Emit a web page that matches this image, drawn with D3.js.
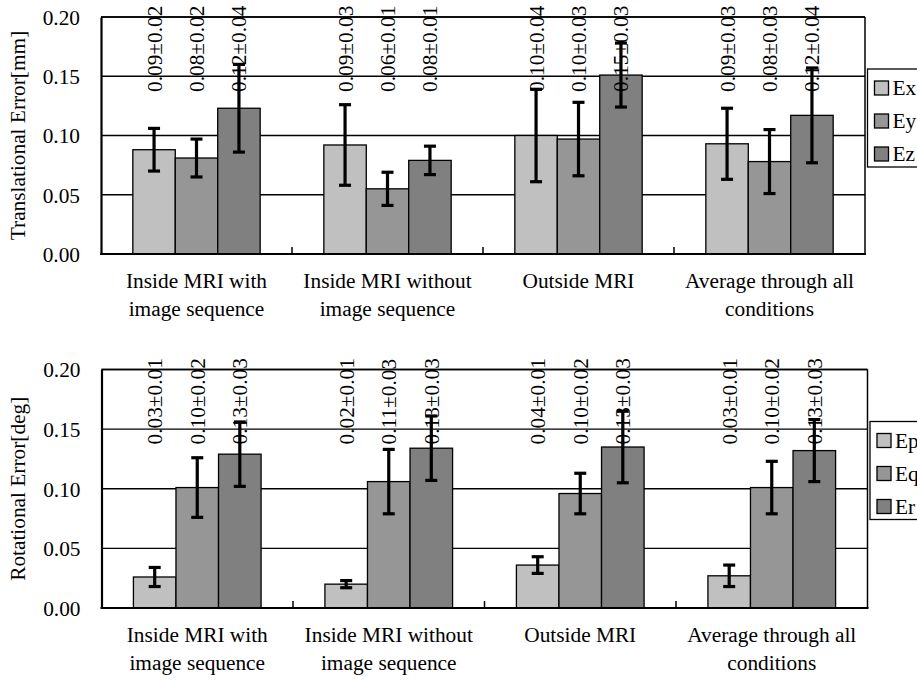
<!DOCTYPE html>
<html>
<head>
<meta charset="utf-8">
<script src="https://cdn.jsdelivr.net/npm/d3@7"></script>
<style>
  body { margin: 0; background: #fff; }
  svg, svg text { font-family: 'Liberation Serif', 'Times New Roman', Tinos, 'DejaVu Serif', serif; }
  svg text { font-size: 21.33px; fill: #000; }
</style>
</head>
<body>
<svg id="chart" width="917" height="684" font-family="Liberation Serif"></svg>
<script>
// Categories (two lines each)
var categories = [
    ["Inside MRI with", "image sequence"],
    ["Inside MRI without", "image sequence"],
    ["Outside MRI"],
    ["Average through all", "conditions"]
];
var yTicks = [0, 0.05, 0.10, 0.15, 0.20];

// Translational error [mm]
var transSeries = ["Ex", "Ey", "Ez"];
var transEx = [0.088, 0.092, 0.100, 0.093];
var transEy = [0.081, 0.055, 0.097, 0.078];
var transEz = [0.123, 0.079, 0.151, 0.117];
var transExErr = [0.018, 0.034, 0.039, 0.030];
var transEyErr = [0.016, 0.014, 0.031, 0.027];
var transEzErr = [0.037, 0.012, 0.027, 0.040];
var transExLabels = ["0.09±0.02", "0.09±0.03", "0.10±0.04", "0.09±0.03"];
var transEyLabels = ["0.08±0.02", "0.06±0.01", "0.10±0.03", "0.08±0.03"];
var transEzLabels = ["0.12±0.04", "0.08±0.01", "0.15±0.03", "0.12±0.04"];

// Rotational error [deg]
var rotSeries = ["Ep", "Eq", "Er"];
var rotEp = [0.026, 0.020, 0.036, 0.027];
var rotEq = [0.101, 0.106, 0.096, 0.101];
var rotEr = [0.129, 0.134, 0.135, 0.132];
var rotEpErr = [0.008, 0.003, 0.007, 0.009];
var rotEqErr = [0.025, 0.027, 0.017, 0.022];
var rotErErr = [0.027, 0.027, 0.030, 0.026];
var rotEpLabels = ["0.03±0.01", "0.02±0.01", "0.04±0.01", "0.03±0.01"];
var rotEqLabels = ["0.10±0.02", "0.11±0.03", "0.10±0.02", "0.10±0.02"];
var rotErLabels = ["0.13±0.03", "0.13±0.03", "0.13±0.03", "0.13±0.03"];

var colors = ["#c0c0c0", "#969696", "#808080"];

var svg = d3.select("#chart");

function drawPanel(cfg) {
    var g = svg.append("g");

    var y = d3.scaleLinear().domain([0, 0.2]).range([cfg.bottom, cfg.top]);
    var x0 = d3.scaleBand().domain(d3.range(categories.length)).range([cfg.left, cfg.right]);
    var x1 = d3.scaleBand().domain(cfg.series).range([0, x0.bandwidth()]).paddingOuter(0.75);

    // Gridlines
    g.selectAll(".grid").data(yTicks.slice(1)).enter().append("line")
        .attr("x1", cfg.left).attr("x2", cfg.right)
        .attr("y1", d => y(d)).attr("y2", d => y(d))
        .attr("stroke", "#000").attr("stroke-width", 1.3);

    // Right border
    g.append("line")
        .attr("x1", cfg.right).attr("x2", cfg.right)
        .attr("y1", cfg.top).attr("y2", cfg.bottom)
        .attr("stroke", "#000").attr("stroke-width", 1.5);

    // Build rows
    var rows = [];
    cfg.series.forEach((s, si) => {
        cfg.values[si].forEach((v, ci) => {
            rows.push({ s: s, si: si, ci: ci, v: v, e: cfg.errors[si][ci], label: cfg.labels[si][ci] });
        });
    });

    // Bars
    g.selectAll(".bar").data(rows).enter().append("rect")
        .attr("x", d => x0(d.ci) + x1(d.s))
        .attr("y", d => y(d.v))
        .attr("width", x1.bandwidth())
        .attr("height", d => y(0) - y(d.v))
        .attr("fill", d => colors[d.si])
        .attr("stroke", "#000").attr("stroke-width", 1.3);

    // Value labels
    g.selectAll(".vlabel").data(rows).enter().append("text")
        .attr("transform", d => `translate(${x0(d.ci) + x1(d.s) + x1.bandwidth() / 2},${cfg.top + 75}) rotate(-90)`)
        .attr("dy", "0.35em")
        .text(d => d.label);

    // Error bars
    var cx = d => x0(d.ci) + x1(d.s) + x1.bandwidth() / 2;
    var eb = g.selectAll(".err").data(rows).enter().append("g")
        .attr("stroke", "#000").attr("stroke-width", 3.2);
    eb.append("line").attr("x1", cx).attr("x2", cx)
        .attr("y1", d => y(d.v + d.e)).attr("y2", d => y(d.v - d.e));
    eb.append("line").attr("x1", d => cx(d) - 6).attr("x2", d => cx(d) + 6)
        .attr("y1", d => y(d.v + d.e)).attr("y2", d => y(d.v + d.e));
    eb.append("line").attr("x1", d => cx(d) - 6).attr("x2", d => cx(d) + 6)
        .attr("y1", d => y(d.v - d.e)).attr("y2", d => y(d.v - d.e));

    // Top border over labels
    g.append("line")
        .attr("x1", cfg.left).attr("x2", cfg.right)
        .attr("y1", cfg.top).attr("y2", cfg.top)
        .attr("stroke", "#000").attr("stroke-width", 1.5);

    // Y axis
    var yAxis = g.append("g")
        .attr("transform", `translate(${cfg.left},0)`)
        .call(d3.axisLeft(y).tickValues(yTicks).tickFormat(d3.format(".2f")).tickSize(0).tickPadding(21));
    yAxis.attr("font-family", null).attr("font-size", null);
    yAxis.select(".domain").attr("stroke", "#000").attr("stroke-width", 2.2);
    yAxis.selectAll("text").attr("dy", "0.35em");

    // X axis line and inner ticks between groups
    g.append("line")
        .attr("x1", cfg.left - 1).attr("x2", cfg.right + 1)
        .attr("y1", cfg.bottom).attr("y2", cfg.bottom)
        .attr("stroke", "#000").attr("stroke-width", 2.2);
    g.selectAll(".xtick").data(d3.range(1, categories.length)).enter().append("line")
        .attr("x1", d => x0(d)).attr("x2", d => x0(d))
        .attr("y1", cfg.bottom).attr("y2", cfg.bottom - 7)
        .attr("stroke", "#000").attr("stroke-width", 1.5);

    // Category labels
    var cl = g.selectAll(".cat").data(categories).enter().append("text")
        .attr("text-anchor", "middle")
        .attr("x", (d, i) => x0(i) + x0.bandwidth() / 2)
        .attr("y", cfg.bottom + 34)
        .attr("dy", "0.35em");
    cl.selectAll("tspan").data(d => d).enter().append("tspan")
        .attr("x", function() { return this.parentNode.getAttribute("x"); })
        .attr("dy", (d, i) => i === 0 ? 0 : 28)
        .text(d => d);

    // Y title
    g.append("text")
        .attr("transform", `translate(18,${(cfg.top + cfg.bottom) / 2}) rotate(-90)`)
        .attr("text-anchor", "middle")
        .attr("dy", "0.35em")
        .text(cfg.title);

    // Legend
    var lg = g.append("g").attr("transform", `translate(${cfg.right + 2.5},${cfg.legendTop})`);
    lg.append("rect").attr("x", 0).attr("y", 0).attr("width", 80).attr("height", 98)
        .attr("fill", "#fff").attr("stroke", "#000").attr("stroke-width", 1.3);
    cfg.series.forEach((s, si) => {
        var yy = 19 + si * 33;
        lg.append("rect").attr("x", 7).attr("y", yy - 7).attr("width", 14).attr("height", 14)
            .attr("fill", colors[si]).attr("stroke", "#000").attr("stroke-width", 1.3);
        lg.append("text").attr("x", 25).attr("y", yy).attr("dy", "0.35em").text(s);
    });
}

drawPanel({
    top: 17, bottom: 254, left: 101, right: 865,
    series: transSeries,
    values: [transEx, transEy, transEz],
    errors: [transExErr, transEyErr, transEzErr],
    labels: [transExLabels, transEyLabels, transEzLabels],
    title: "Translational Error[mm]",
    legendTop: 69
});

drawPanel({
    top: 369.5, bottom: 608, left: 101.5, right: 867.5,
    series: rotSeries,
    values: [rotEp, rotEq, rotEr],
    errors: [rotEpErr, rotEqErr, rotErErr],
    labels: [rotEpLabels, rotEqLabels, rotErLabels],
    title: "Rotational Error[deg]",
    legendTop: 421.5
});
</script>
</body>
</html>
